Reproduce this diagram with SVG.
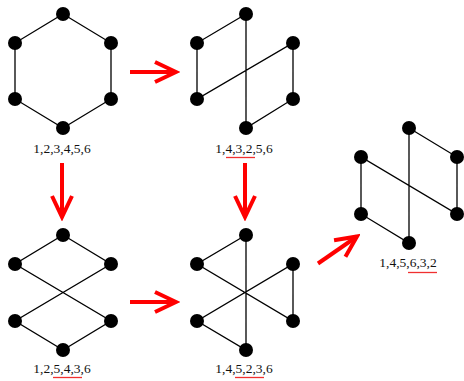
<svg xmlns="http://www.w3.org/2000/svg" width="464" height="381" viewBox="0 0 464 381">
<defs>
<style>
.e{stroke:#000;stroke-width:1.3;fill:none}
.d{fill:#000}
.t{font-family:"Liberation Serif","Times New Roman",serif;font-size:13.5px;fill:#111;text-anchor:middle}
.u{stroke:#f03030;stroke-width:1.3}
.a{stroke:#ff0000;stroke-width:4;fill:none;marker-end:url(#h)}
</style>
<marker id="h" viewBox="-26 -14 30 28" markerWidth="30" markerHeight="28" refX="0" refY="0" markerUnits="userSpaceOnUse" orient="auto">
<path d="M-21,-10 L0,0 L-21,10" stroke="#ff0000" stroke-width="4" fill="none"/>
</marker>
</defs>
<rect width="464" height="381" fill="#fff"/>

<g id="g1">
<path class="e" d="M63,14 L111,43 L111,99 L63,128 L15,99 L15,43 Z"/>
<circle class="d" cx="63" cy="14" r="7"/>
<circle class="d" cx="15" cy="43" r="7"/>
<circle class="d" cx="111" cy="43" r="7"/>
<circle class="d" cx="15" cy="99" r="7"/>
<circle class="d" cx="111" cy="99" r="7"/>
<circle class="d" cx="63" cy="128" r="7"/>
<text class="t" x="62" y="153">1,2,3,4,5,6</text>
</g>

<g id="g2">
<path class="e" d="M246,14 L197,43 L197,99 L293,43 L293,99 L246,128 Z"/>
<circle class="d" cx="246" cy="14" r="7"/>
<circle class="d" cx="197" cy="43" r="7"/>
<circle class="d" cx="293" cy="43" r="7"/>
<circle class="d" cx="197" cy="99" r="7"/>
<circle class="d" cx="293" cy="99" r="7"/>
<circle class="d" cx="246" cy="128" r="7"/>
<text class="t" x="244" y="153">1,4,3,2,5,6</text>
<line class="u" x1="226" y1="157.5" x2="255" y2="157.5"/>
</g>

<g id="g3">
<path class="e" d="M63,235 L111,264 L15,321 L63,350 L111,321 L15,264 Z"/>
<circle class="d" cx="63" cy="235" r="7"/>
<circle class="d" cx="15" cy="264" r="7"/>
<circle class="d" cx="111" cy="264" r="7"/>
<circle class="d" cx="15" cy="321" r="7"/>
<circle class="d" cx="111" cy="321" r="7"/>
<circle class="d" cx="63" cy="350" r="7"/>
<text class="t" x="62" y="373">1,2,5,4,3,6</text>
<line class="u" x1="53" y1="377.5" x2="82" y2="377.5"/>
</g>

<g id="g4">
<path class="e" d="M246,235 L197,264 L293,321 L293,264 L197,321 L246,350 Z"/>
<circle class="d" cx="246" cy="235" r="7"/>
<circle class="d" cx="197" cy="264" r="7"/>
<circle class="d" cx="293" cy="264" r="7"/>
<circle class="d" cx="197" cy="321" r="7"/>
<circle class="d" cx="293" cy="321" r="7"/>
<circle class="d" cx="246" cy="350" r="7"/>
<text class="t" x="244" y="373">1,4,5,2,3,6</text>
<line class="u" x1="235" y1="377.5" x2="264" y2="377.5"/>
</g>

<g id="g5">
<path class="e" d="M409,128 L457,157 L457,214 L361,157 L361,214 L409,243 Z"/>
<circle class="d" cx="409" cy="128" r="7"/>
<circle class="d" cx="361" cy="157" r="7"/>
<circle class="d" cx="457" cy="157" r="7"/>
<circle class="d" cx="361" cy="214" r="7"/>
<circle class="d" cx="457" cy="214" r="7"/>
<circle class="d" cx="409" cy="243" r="7"/>
<text class="t" x="408" y="267">1,4,5,6,3,2</text>
<line class="u" x1="408" y1="272.5" x2="437" y2="272.5"/>
</g>

<g id="connectors">
<line class="a" x1="130" y1="72" x2="176" y2="72"/>
<line class="a" x1="62" y1="163" x2="62" y2="217"/>
<line class="a" x1="245" y1="163" x2="245" y2="217"/>
<line class="a" x1="130" y1="302" x2="176" y2="302"/>
<line class="a" x1="318" y1="263.5" x2="357" y2="236.5"/>
</g>
</svg>
